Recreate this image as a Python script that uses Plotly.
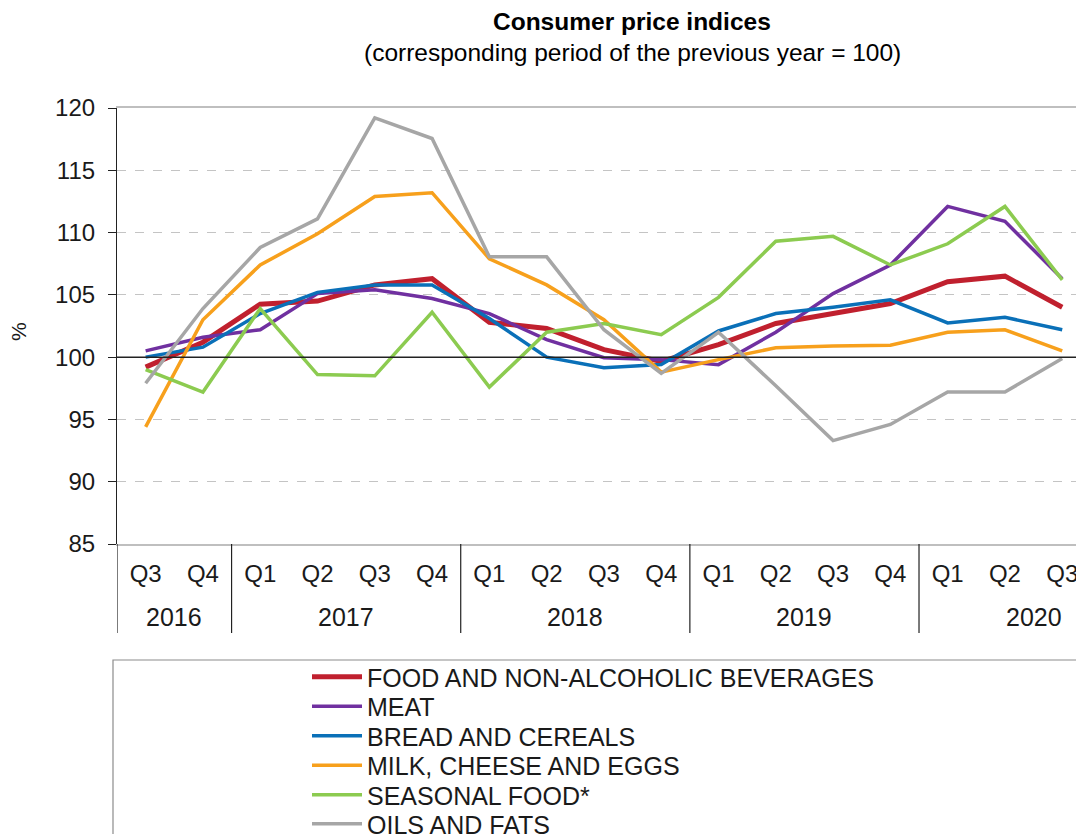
import plotly.graph_objects as go

quarters = ["Q3", "Q4", "Q1", "Q2", "Q3", "Q4", "Q1", "Q2", "Q3", "Q4",
            "Q1", "Q2", "Q3", "Q4", "Q1", "Q2", "Q3"]
years = ["2016", "2017", "2018", "2019", "2020"]
year_centers = [0.5, 3.5, 7.5, 11.5, 15.5]
year_dividers = [-0.5, 1.5, 5.5, 9.5, 13.5]

food = [99.2, 101.2, 104.25, 104.5, 105.8, 106.3, 102.8, 102.3, 100.6, 99.65,
        101.0, 102.7, 103.5, 104.3, 106.05, 106.5, 104.0]
meat = [100.5, 101.6, 102.2, 105.1, 105.4, 104.7, 103.5, 101.4, 99.95, 99.8,
        99.4, 102.0, 105.1, 107.4, 112.1, 110.9, 106.3]
bread = [100.0, 100.8, 103.5, 105.2, 105.8, 105.8, 103.1, 100.0, 99.15, 99.4,
         102.1, 103.5, 104.0, 104.6, 102.75, 103.2, 102.2]
milk = [94.4, 103.0, 107.4, 109.9, 112.9, 113.2, 107.9, 105.8, 103.0, 98.8,
        99.8, 100.75, 100.9, 100.95, 102.0, 102.2, 100.5]
seasonal = [99.0, 97.2, 103.9, 98.6, 98.5, 103.6, 97.6, 102.0, 102.7, 101.8,
            104.8, 109.3, 109.7, 107.4, 109.1, 112.1, 106.2]
oils = [97.9, 103.9, 108.8, 111.1, 119.2, 117.55, 108.05, 108.05, 102.2, 98.7,
        102.0, 97.7, 93.3, 94.6, 97.2, 97.2, 99.9]

series = [
    ("FOOD AND NON-ALCOHOLIC BEVERAGES", food, "#C0202E", 5),
    ("MEAT", meat, "#7030A0", 3.5),
    ("BREAD AND CEREALS", bread, "#0A70B8", 3.5),
    ("MILK, CHEESE AND EGGS", milk, "#F7A01C", 3.5),
    ("SEASONAL FOOD*", seasonal, "#8CCB50", 3.5),
    ("OILS AND FATS", oils, "#A6A6A6", 3.5),
]

FONT = "Liberation Sans, Arial, sans-serif"
TXT = "#1a1a1a"

# page body has an 8px margin; work in screen pixels and convert
OFF = 8
W, H = 1084 - OFF, 834 - OFF
L, T, B = 117 - OFF, 108 - OFF, 544 - OFF
PW, PH = W - L, B - T


def px(xs):
    return (xs - OFF - L) / PW


def py(ys):
    return (B - (ys - OFF)) / PH


x_idx = list(range(len(quarters)))
legend_ids = ["legend", "legend2", "legend3", "legend4", "legend5", "legend6"]

fig = go.Figure()
for i, (name, vals, color, width) in enumerate(series):
    fig.add_trace(go.Scatter(
        x=x_idx, y=vals, mode="lines", name=name,
        line=dict(color=color, width=width),
        legend=legend_ids[i],
    ))

shapes = []
shapes.append(dict(type="line", xref="paper", yref="y", x0=0, x1=1, y0=100, y1=100,
                   line=dict(color="#222222", width=1.5)))
for d in year_dividers:
    shapes.append(dict(type="line", xref="x", yref="paper", x0=d, x1=d,
                       y0=0, y1=py(633), line=dict(color="#222222", width=1.2)))
shapes.append(dict(type="rect", xref="paper", yref="paper",
                   x0=px(113), x1=px(1100), y0=py(660), y1=py(870),
                   line=dict(color="#8c8c8c", width=1.2), fillcolor="rgba(0,0,0,0)"))

annotations = []
annotations.append(dict(text="<b>Consumer price indices</b>", xref="paper", yref="paper",
                        x=px(632), y=py(22), showarrow=False, xanchor="center", yanchor="middle",
                        font=dict(family=FONT, size=24.5, color="#000000")))
annotations.append(dict(text="(corresponding period of the previous year = 100)",
                        xref="paper", yref="paper", x=px(632), y=py(52), showarrow=False,
                        xanchor="center", yanchor="middle",
                        font=dict(family=FONT, size=24.5, color="#000000")))
annotations.append(dict(text="%", xref="paper", yref="paper", x=px(18), y=py(332),
                        showarrow=False, textangle=-90, xanchor="center", yanchor="middle",
                        font=dict(family=FONT, size=21, color=TXT)))
for yr, c in zip(years, year_centers):
    annotations.append(dict(text=yr, xref="x", yref="paper", x=c, y=py(617),
                            showarrow=False, xanchor="center", yanchor="middle",
                            font=dict(family=FONT, size=25, color=TXT)))

row_centers_screen = [677, 706.5, 736, 765.5, 795, 824]
legend_left_screen = 307

legend_layouts = {}
for lid, cy in zip(legend_ids, row_centers_screen):
    top = cy - 23
    legend_layouts[lid] = dict(
        xref="container", yref="container",
        x=(legend_left_screen - OFF) / W, y=(H - (top - OFF)) / H,
        xanchor="left", yanchor="top",
        font=dict(family=FONT, size=25, color=TXT),
        bgcolor="rgba(0,0,0,0)", borderwidth=0,
        itemwidth=50,
    )

fig.update_layout(
    width=W, height=H,
    margin=dict(l=L, r=0, t=T, b=H - B, pad=0, autoexpand=False),
    paper_bgcolor="white", plot_bgcolor="white",
    showlegend=True,
    xaxis=dict(
        range=[-0.5, 16.38], tickmode="array", tickvals=x_idx, ticktext=quarters,
        showgrid=False, zeroline=False, ticks="",
        showline=True, linecolor="#BFBFBF", linewidth=2, mirror=True,
        tickfont=dict(family=FONT, size=24, color=TXT),
        ticklabelstandoff=7,
    ),
    yaxis=dict(
        range=[85, 120], tickmode="array", tickvals=[85, 90, 95, 100, 105, 110, 115, 120],
        showgrid=True, gridcolor="#C4C4C4", griddash="dash", gridwidth=1,
        zeroline=False, showline=True, linecolor="#222222", linewidth=1.2,
        ticks="outside", ticklen=8, tickcolor="#222222", tickwidth=1.2,
        tickfont=dict(family=FONT, size=24, color=TXT),
        ticklabelstandoff=8,
    ),
    shapes=shapes,
    annotations=annotations,
    **legend_layouts,
)

fig.write_html("out.html")
